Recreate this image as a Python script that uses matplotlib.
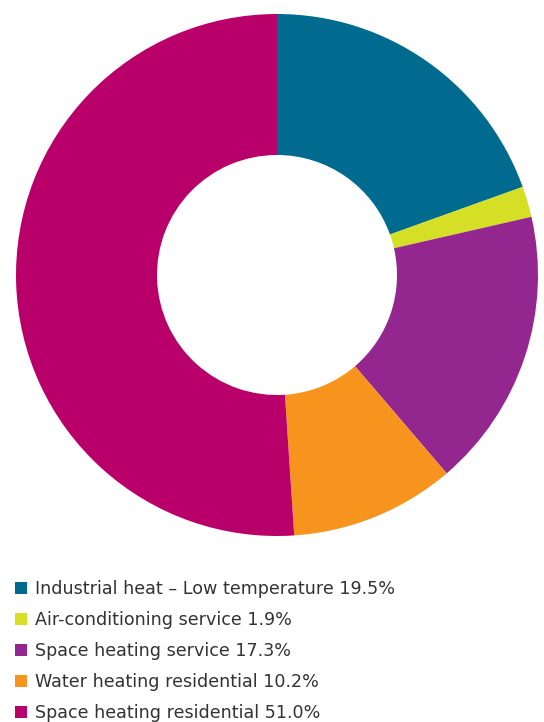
import matplotlib.pyplot as plt
from matplotlib.patches import Patch

labels = ['Industrial heat \u2013 Low temperature', 'Air-conditioning service',
          'Space heating service', 'Water heating residential', 'Space heating residential']
shares = [19.5, 1.9, 17.3, 10.2, 51.0]
colors = ['#006b8f', '#d5df26', '#93278f', '#f6941e', '#b9006a']

W, H = 544, 722
fig = plt.figure(figsize=(W / 100, H / 100), dpi=100)
cx, cy, r = 277, 275, 261
ax = fig.add_axes([(cx - r) / W, 1 - (cy + r) / H, 2 * r / W, 2 * r / H])
ax.pie(shares, colors=colors, startangle=90, counterclock=False,
       radius=1.0, wedgeprops=dict(width=1 - 120 / 261, linewidth=0))
ax.set_aspect('equal')
ax.set_xlim(-1, 1)
ax.set_ylim(-1, 1)
ax.axis('off')

handles = [Patch(facecolor=c, edgecolor='none') for c in colors]
texts = [f'{l} {v:.1f}%' for l, v in zip(labels, shares)]
fig.legend(handles, texts, loc='upper left', bbox_to_anchor=(8 / W, 1 - 573 / H),
           frameon=False, prop={'family': 'DejaVu Sans', 'size': 12.6},
           labelcolor='#333333', handlelength=0.7, handleheight=0.7,
           handletextpad=0.45, labelspacing=0.74, borderaxespad=0)

fig.savefig('out.png', dpi=100)
